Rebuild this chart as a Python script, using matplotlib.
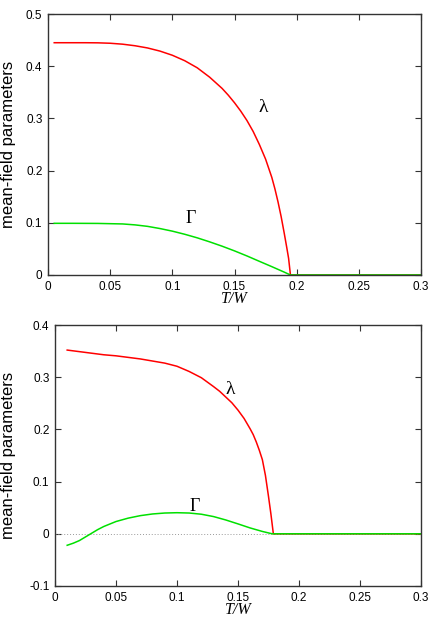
import matplotlib.pyplot as plt

# upper panel
t_lam_a = [0.005, 0.02, 0.03, 0.04, 0.05, 0.06, 0.07, 0.08, 0.09, 0.10, 0.11, 0.12, 0.13,
           0.14, 0.145, 0.15, 0.155, 0.16, 0.165, 0.17, 0.175, 0.18, 0.1825, 0.185,
           0.1875, 0.19, 0.192, 0.1935, 0.195, 0.3]
lam_a = [0.445, 0.445, 0.445, 0.4448, 0.444, 0.4422, 0.4392, 0.435, 0.429, 0.421, 0.4105,
         0.397, 0.379, 0.3575, 0.3445, 0.330, 0.314, 0.296, 0.275, 0.250, 0.222, 0.187,
         0.165, 0.140, 0.112, 0.080, 0.053, 0.032, 0.0, 0.0]
t_gam_a = [0.005, 0.02, 0.04, 0.06, 0.07, 0.08, 0.09, 0.10, 0.11, 0.12, 0.13, 0.14, 0.15,
           0.16, 0.17, 0.18, 0.19, 0.195, 0.3]
gam_a = [0.099, 0.099, 0.0988, 0.0978, 0.096, 0.0932, 0.089, 0.084, 0.078, 0.0712, 0.0635,
         0.0552, 0.0462, 0.0365, 0.0262, 0.016, 0.0055, 0.0, 0.0]

# lower panel
t_lam_b = [0.01, 0.02, 0.03, 0.04, 0.05, 0.06, 0.07, 0.08, 0.09, 0.10, 0.11, 0.12, 0.13,
           0.135, 0.14, 0.145, 0.15, 0.155, 0.16, 0.1625, 0.165, 0.1675, 0.17, 0.1725,
           0.175, 0.177, 0.179, 0.3]
lam_b = [0.352, 0.349, 0.346, 0.343, 0.341, 0.338, 0.335, 0.331, 0.327, 0.321, 0.311, 0.299,
         0.282, 0.273, 0.262, 0.251, 0.237, 0.221, 0.201, 0.190, 0.176, 0.160, 0.142, 0.112,
         0.072, 0.038, 0.0, 0.0]
t_gam_b = [0.01, 0.015, 0.02, 0.025, 0.03, 0.035, 0.04, 0.05, 0.06, 0.07, 0.08, 0.09, 0.10,
           0.11, 0.12, 0.13, 0.14, 0.15, 0.16, 0.17, 0.178, 0.3]
gam_b = [-0.022, -0.018, -0.013, -0.006, 0.001, 0.008, 0.014, 0.0235, 0.030, 0.0348, 0.038,
         0.0398, 0.0404, 0.0398, 0.0375, 0.033, 0.0265, 0.019, 0.0112, 0.0045, 0.0, 0.0]

x_ticks = [0, 0.05, 0.1, 0.15, 0.2, 0.25, 0.3]
x_labels = ["0", "0.05", "0.1", "0.15", "0.2", "0.25", "0.3"]
y_ticks_a = [0, 0.1, 0.2, 0.3, 0.4, 0.5]
y_labels_a = ["0", "0.1", "0.2", "0.3", "0.4", "0.5"]
y_ticks_b = [-0.1, 0, 0.1, 0.2, 0.3, 0.4]
y_labels_b = ["-0.1", "0", "0.1", "0.2", "0.3", "0.4"]

plt.rcParams['font.family'] = ['Liberation Sans', 'DejaVu Sans']

fig = plt.figure(figsize=(4.36, 6.23), dpi=100)
ax1 = fig.add_axes([0.1101, 0.5586, 0.8555, 0.4189])
ax2 = fig.add_axes([0.1261, 0.0594, 0.8394, 0.4189])


def style(ax, yt, yl, ylim):
    ax.set_xlim(0, 0.3)
    ax.set_ylim(*ylim)
    ax.set_xticks(x_ticks)
    ax.set_xticklabels(x_labels)
    ax.set_yticks(yt)
    ax.set_yticklabels(yl)
    ax.tick_params(direction='in', top=True, right=True, length=4, width=0.8,
                   labelsize=8.5, pad=4, color='#333333')
    for s in ax.spines.values():
        s.set_color('#333333')
        s.set_linewidth(1.0)
    ax.set_xlabel('T/W', family=['Liberation Serif'], style='italic',
                  fontsize=11.5, labelpad=-1)


style(ax1, y_ticks_a, y_labels_a, (0, 0.5))
ax1.plot(t_lam_a, lam_a, color='#ff0000', lw=1.1)
ax1.plot(t_gam_a, gam_a, color='#00e000', lw=1.1)
ax1.text(0.173, 0.32, 'λ', family=['Liberation Serif'], fontsize=14, ha='center', va='center')
ax1.text(0.1145, 0.109, 'Γ', family=['Liberation Serif'], fontsize=13, ha='center', va='center')

style(ax2, y_ticks_b, y_labels_b, (-0.1, 0.4))
ax2.axhline(0, color='#999999', lw=0.7, ls=(0, (1, 2)))
ax2.plot(t_lam_b, lam_b, color='#ff0000', lw=1.1)
ax2.plot(t_gam_b, gam_b, color='#00e000', lw=1.1)
ax2.text(0.1434, 0.276, 'λ', family=['Liberation Serif'], fontsize=14, ha='center', va='center')
ax2.text(0.1148, 0.052, 'Γ', family=['Liberation Serif'], fontsize=13, ha='center', va='center')

# y labels sit right at the left edge
fig.text(0.002, 1 - 144.5 / 623, 'mean-field parameters', rotation=90,
         ha='left', va='center', fontsize=12)
fig.text(0.002, 1 - 455.5 / 623, 'mean-field parameters', rotation=90,
         ha='left', va='center', fontsize=12)

fig.savefig('out.png', dpi=100)
